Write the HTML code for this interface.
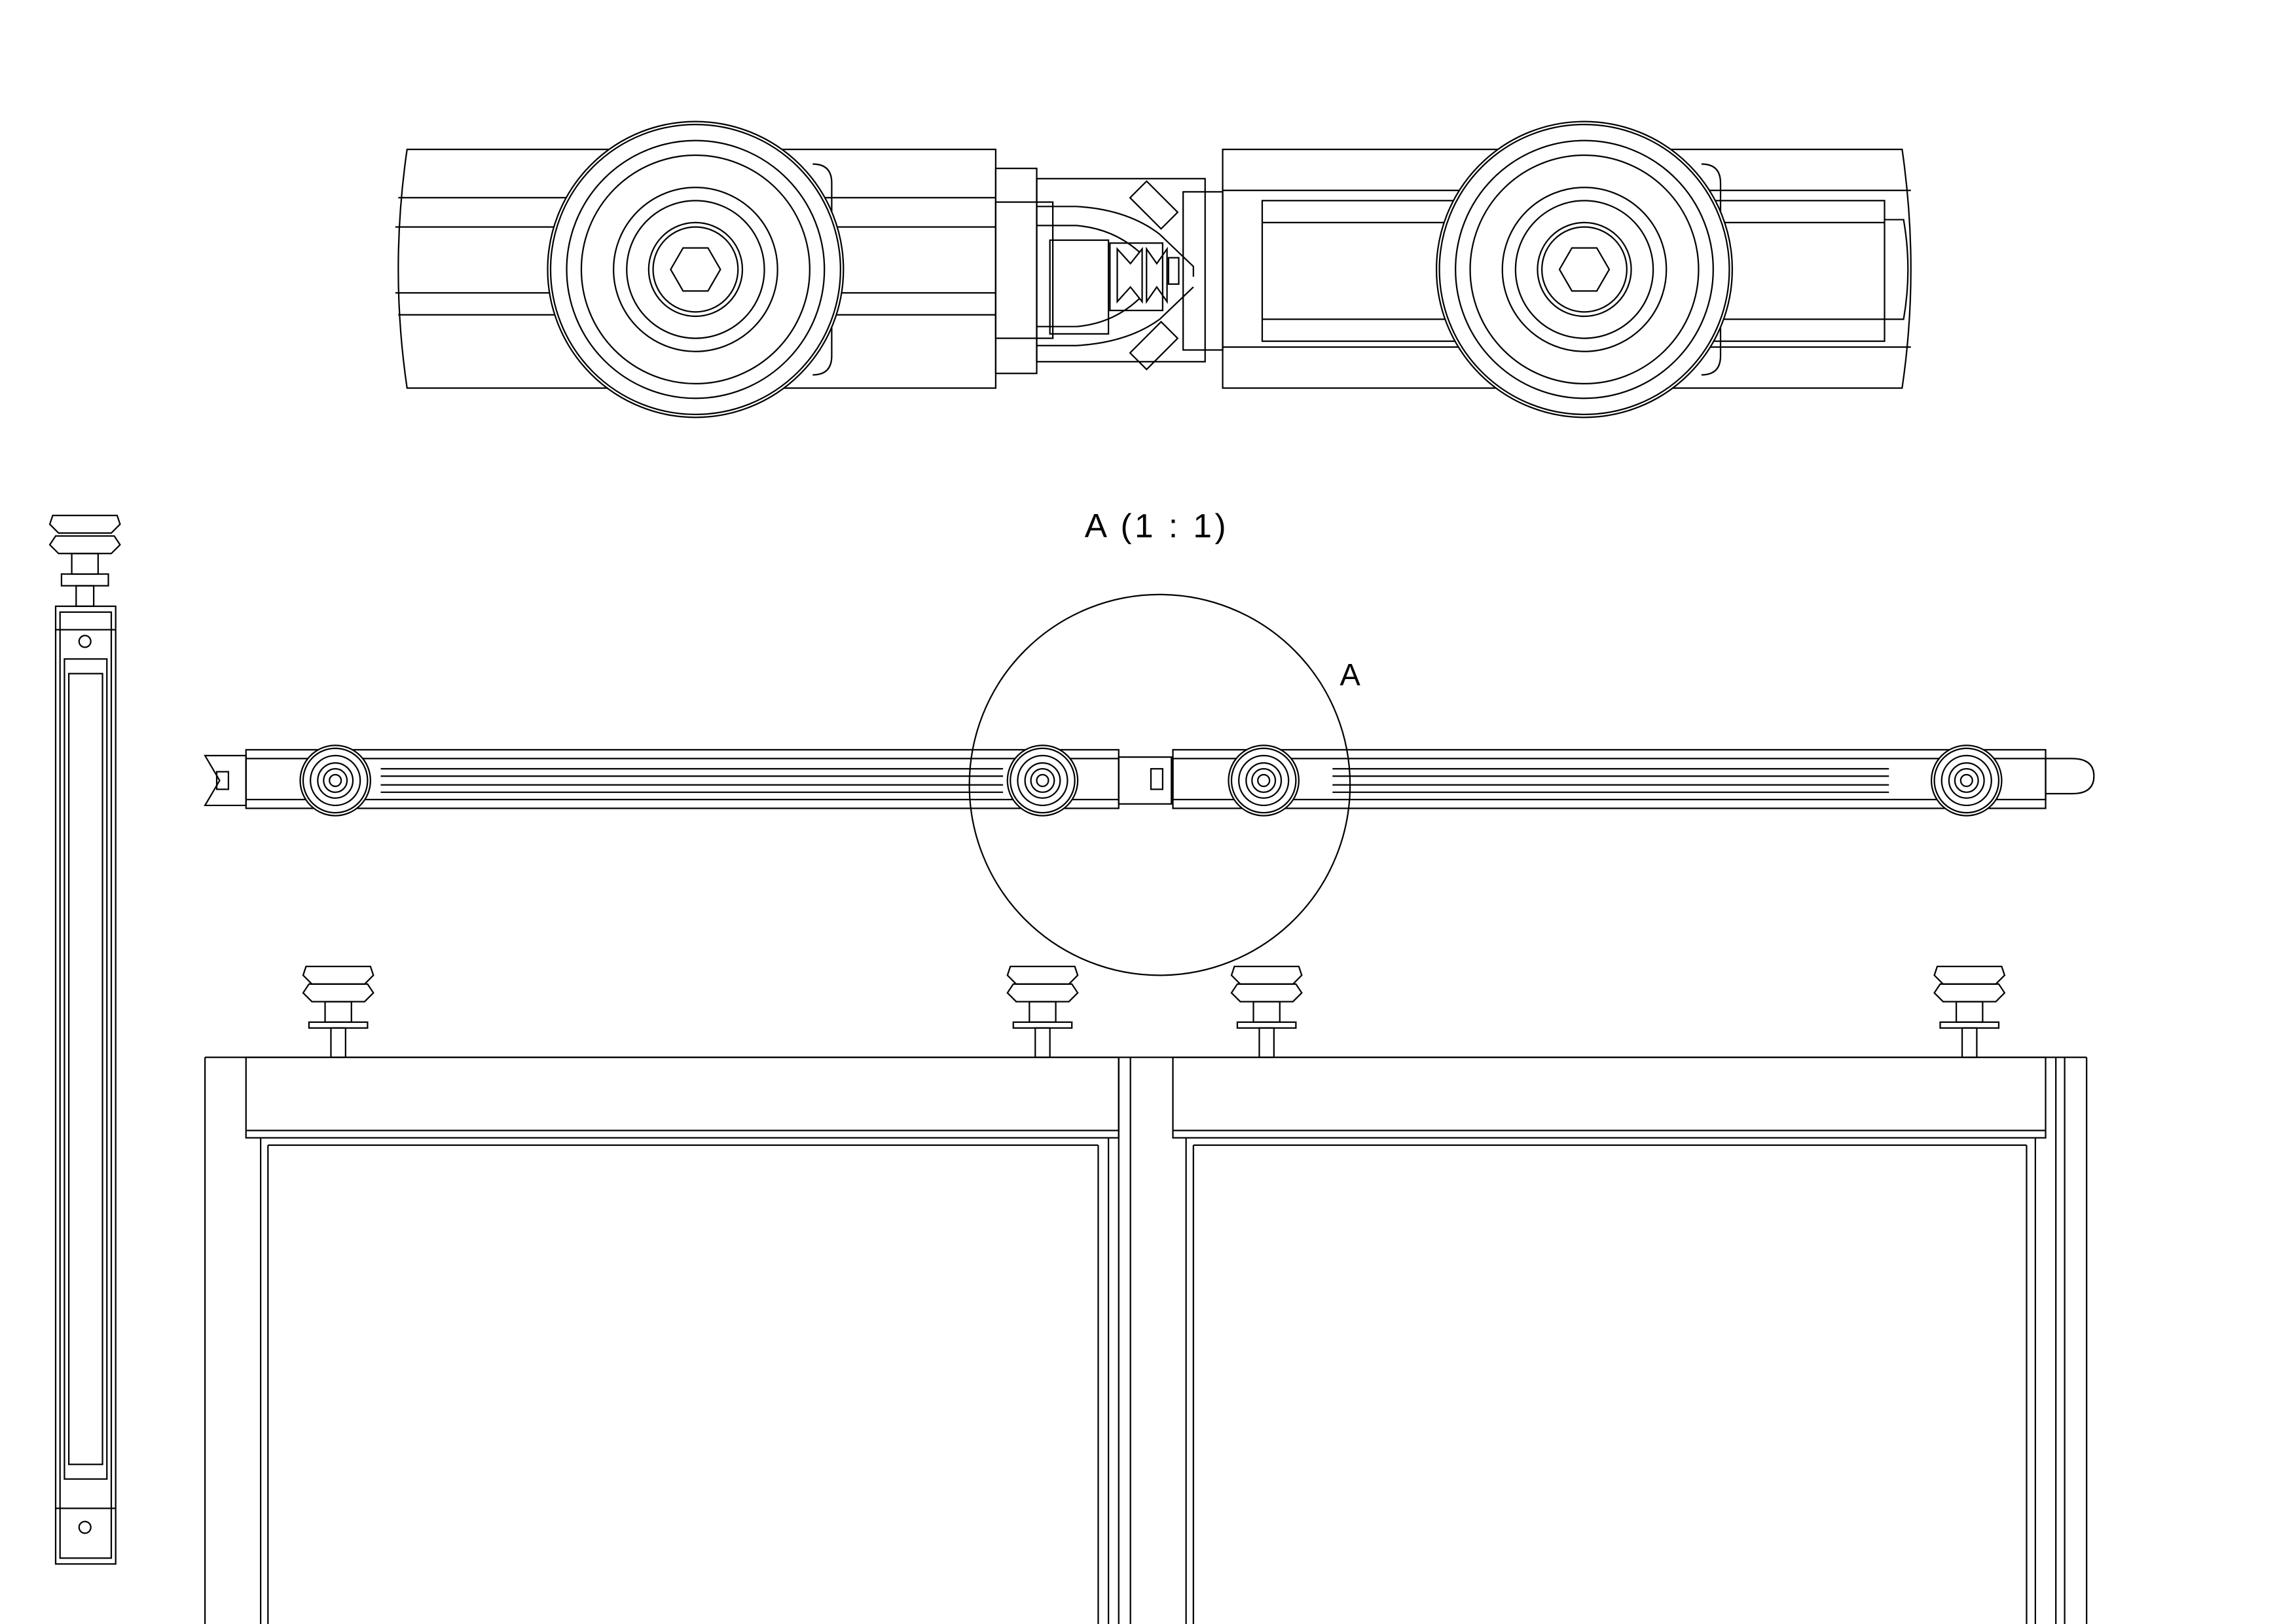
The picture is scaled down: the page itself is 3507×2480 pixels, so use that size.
<!DOCTYPE html>
<html><head><meta charset="utf-8"><style>
html,body{margin:0;padding:0;background:#fff;}
svg{display:block;}
text{font-family:"Liberation Sans",sans-serif;}
</style></head><body>
<svg width="3507" height="2480" viewBox="0 0 1568 1109" preserveAspectRatio="none" xmlns="http://www.w3.org/2000/svg" fill="none" stroke="#000" stroke-width="1">
<defs>
<g id="wheelBig">
<circle r="101"/><circle r="99"/><circle r="88"/><circle r="78"/><circle r="56"/><circle r="47"/><circle r="32"/><circle r="29"/>
<polygon points="17,0 8.5,14.7 -8.5,14.7 -17,0 -8.5,-14.7 8.5,-14.7"/>
</g>
<g id="wheelS">
<circle r="24"/><circle r="22"/><circle r="17"/><circle r="12"/><circle r="8"/><circle r="4"/>
</g>
<g id="roller">
<path d="M-22,0 L22,0 L24,6 L18,12 L-18,12 L-24,6 Z"/>
<path d="M-20,12 L20,12 L24,18 L18,24 L-18,24 L-24,18 Z"/>
<rect x="-9" y="24" width="18" height="14"/>
<rect x="-20" y="38" width="40" height="4"/>
<rect x="-5" y="42" width="10" height="20"/>
</g>
</defs>

<path d="M278,102 L680,102 L680,265 L278,265 Q266,184 278,102 Z"/>
<line x1="272" y1="135" x2="680" y2="135"/>
<line x1="270" y1="155" x2="680" y2="155"/>
<line x1="270" y1="200" x2="680" y2="200"/>
<line x1="272" y1="215" x2="680" y2="215"/>
<path d="M555,112 Q568,112 568,125 L568,243 Q568,256 555,256"/>
<use href="#wheelBig" x="475" y="184" fill="#fff"/>
<rect x="680" y="115" width="28" height="140"/>
<rect x="680" y="138" width="39" height="93"/>
<rect x="708" y="122" width="115" height="125"/>
<path d="M708,141 L735,141 Q770,143 792,160 L815,182 L815,189"/>
<path d="M708,154 L735,154 Q760,156 778,172"/>
<path d="M708,223 L735,223 Q760,221 778,204"/>
<path d="M708,236 L735,236 Q770,234 792,218 L815,196"/>
<rect x="717" y="164" width="40" height="64"/>
<rect x="758" y="166" width="36" height="46"/>
<path d="M763,170 L772,180 L780,170 L780,206 L772,196 L763,206 Z"/>
<path d="M783,170 L790,180 L797,170 L797,206 L790,196 L783,206 Z"/>
<rect x="798" y="176" width="7" height="18"/>
<rect x="773" y="132" width="30" height="16" transform="rotate(45 788 140)"/>
<rect x="773" y="228" width="30" height="16" transform="rotate(-45 788 236)"/>
<rect x="808" y="131" width="27" height="108"/>
<path d="M835,102 L1299,102 Q1311,184 1299,265 L835,265 Z"/>
<line x1="835" y1="130" x2="1305" y2="130"/>
<line x1="835" y1="237" x2="1305" y2="237"/>
<rect x="862" y="137" width="425" height="96"/>
<line x1="862" y1="152" x2="1287" y2="152"/>
<line x1="862" y1="218" x2="1287" y2="218"/>
<path d="M1287,150 L1300,150 Q1306,184 1300,218 L1287,218"/>
<path d="M1162,112 Q1175,112 1175,125 L1175,243 Q1175,256 1162,256"/>
<use href="#wheelBig" x="1082" y="184" fill="#fff"/>

<text x="790" y="367" font-size="23" fill="#000" stroke="none" text-anchor="middle" letter-spacing="2">A  (1 : 1)</text>
<text x="922" y="468" font-size="21" fill="#000" stroke="none" text-anchor="middle">A</text>

<circle cx="792" cy="536" r="130"/>
<path d="M140,516 L168,516 L168,550 L140,550 L150,533 Z"/>
<rect x="148" y="527" width="8" height="12"/>
<rect x="168" y="512" width="596" height="40"/>
<rect x="168" y="518" width="596" height="28"/>
<line x1="260" y1="525" x2="685" y2="525"/>
<line x1="260" y1="541" x2="685" y2="541"/>
<line x1="260" y1="530" x2="685" y2="530"/>
<line x1="260" y1="536" x2="685" y2="536"/>
<rect x="764" y="517" width="36" height="32"/>
<rect x="786" y="525" width="8" height="14"/>
<rect x="801" y="512" width="596" height="40"/>
<rect x="801" y="518" width="596" height="28"/>
<line x1="910" y1="525" x2="1290" y2="525"/>
<line x1="910" y1="541" x2="1290" y2="541"/>
<line x1="910" y1="530" x2="1290" y2="530"/>
<line x1="910" y1="536" x2="1290" y2="536"/>
<path d="M1397,518 L1415,518 Q1430,518 1430,530 Q1430,542 1415,542 L1397,542"/>
<use href="#wheelS" x="229" y="533" fill="#fff"/>
<use href="#wheelS" x="712" y="533" fill="#fff"/>
<use href="#wheelS" x="863" y="533" fill="#fff"/>
<use href="#wheelS" x="1343" y="533" fill="#fff"/>

<g transform="translate(58,352)">
<path d="M-22,0 L22,0 L24,6 L18,12 L-18,12 L-24,6 Z"/>
<path d="M-20,14 L20,14 L24,20 L18,26 L-18,26 L-24,20 Z"/>
<rect x="-9" y="26" width="18" height="14"/>
<rect x="-16" y="40" width="32" height="8"/>
<rect x="-6" y="48" width="12" height="14"/>
</g>
<rect x="38" y="414" width="41" height="654"/>
<rect x="41" y="418" width="35" height="646"/>
<rect x="44" y="450" width="29" height="560"/>
<rect x="47" y="460" width="23" height="540"/>
<circle cx="58" cy="438" r="4"/>
<circle cx="58" cy="1043" r="4"/>
<line x1="38" y1="430" x2="79" y2="430"/>
<line x1="38" y1="1030" x2="79" y2="1030"/>

<line x1="140" y1="722" x2="1425" y2="722"/>
<line x1="140" y1="722" x2="140" y2="1109"/>
<rect x="168" y="722" width="596" height="55"/>
<line x1="168" y1="772" x2="764" y2="772"/>
<line x1="178" y1="777" x2="178" y2="1109"/>
<line x1="183" y1="782" x2="183" y2="1109"/>
<line x1="183" y1="782" x2="750" y2="782"/>
<line x1="750" y1="782" x2="750" y2="1109"/>
<line x1="757" y1="777" x2="757" y2="1109"/>
<line x1="764" y1="722" x2="764" y2="1109"/>
<line x1="772" y1="722" x2="772" y2="1109"/>
<rect x="801" y="722" width="596" height="55"/>
<line x1="801" y1="772" x2="1397" y2="772"/>
<line x1="810" y1="777" x2="810" y2="1109"/>
<line x1="815" y1="782" x2="815" y2="1109"/>
<line x1="815" y1="782" x2="1384" y2="782"/>
<line x1="1384" y1="782" x2="1384" y2="1109"/>
<line x1="1390" y1="777" x2="1390" y2="1109"/>
<line x1="1404" y1="722" x2="1404" y2="1109"/>
<line x1="1410" y1="722" x2="1410" y2="1109"/>
<line x1="1425" y1="722" x2="1425" y2="1109"/>
<use href="#roller" x="231" y="660"/>
<use href="#roller" x="712" y="660"/>
<use href="#roller" x="865" y="660"/>
<use href="#roller" x="1345" y="660"/>
</svg>
</body></html>
